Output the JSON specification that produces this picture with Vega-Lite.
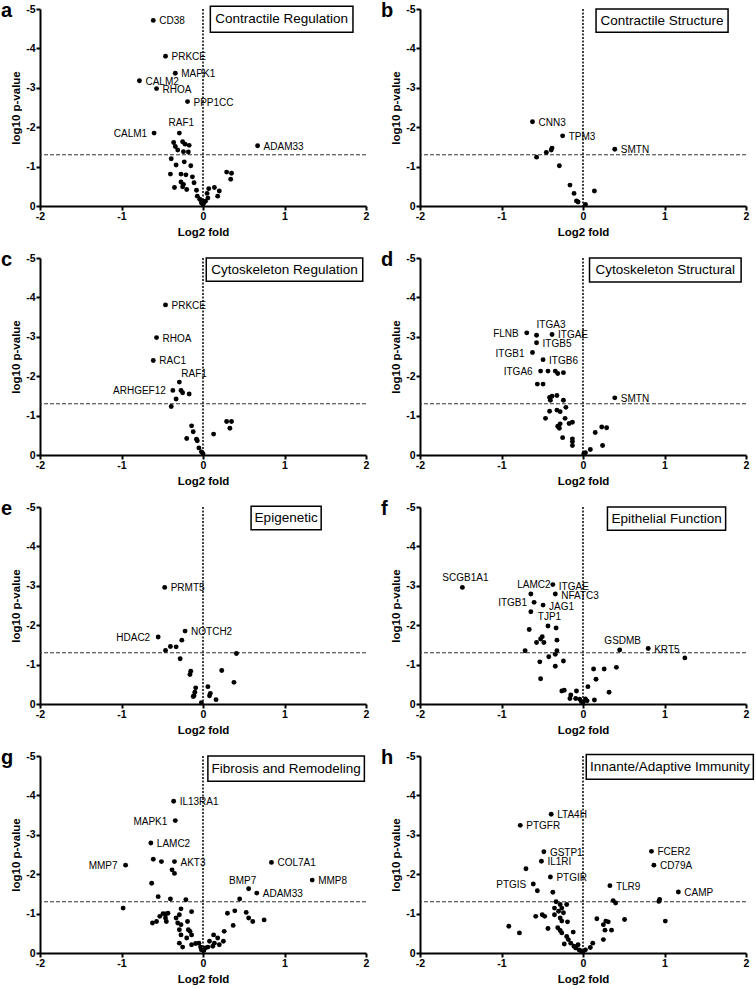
{
"$schema": "https://vega.github.io/schema/vega-lite/v6.json",
"padding": {"left": 1, "top": 1, "right": 2, "bottom": 0},
"background": "white",
"config": {
 "font": "Liberation Sans",
 "view": {"stroke": null},
 "axis": {"domainColor": "black", "domainWidth": 2, "tickColor": "black", "tickWidth": 2, "tickSize": 4, "labelPadding": 1, "labelFontSize": 10.5, "labelFontWeight": "bold", "labelColor": "black", "titleFontSize": 11.5, "titleFontWeight": "bold", "titleColor": "black", "grid": false, "labelFlush": false, "labelExpr": "datum.value + ''"},
 "axisX": {"titlePadding": 5, "tickCount": 4},
 "axisY": {"titlePadding": 4, "tickCount": 5}
},
"datasets": {
 "da": [
  {"fold": -0.61, "logp": -4.71, "gene": "CD38"},
  {"fold": -0.46, "logp": -3.80, "gene": "PRKCE"},
  {"fold": -0.34, "logp": -3.37, "gene": "MAPK1"},
  {"fold": -0.78, "logp": -3.18, "gene": "CALM2"},
  {"fold": -0.57, "logp": -2.98, "gene": "RHOA"},
  {"fold": -0.19, "logp": -2.65, "gene": "PPP1CC"},
  {"fold": -0.29, "logp": -1.85, "gene": "RAF1"},
  {"fold": -0.60, "logp": -1.85, "gene": "CALM1"},
  {"fold": 0.67, "logp": -1.53, "gene": "ADAM33"},
  {"fold": -0.36, "logp": -1.61}, {"fold": -0.25, "logp": -1.63}, {"fold": -0.22, "logp": -1.57}, {"fold": -0.17, "logp": -1.54},
  {"fold": -0.34, "logp": -1.51}, {"fold": -0.31, "logp": -1.42}, {"fold": -0.24, "logp": -1.38}, {"fold": -0.18, "logp": -1.37},
  {"fold": -0.39, "logp": -1.20}, {"fold": -0.23, "logp": -1.12}, {"fold": -0.15, "logp": -1.02}, {"fold": -0.33, "logp": -1.04},
  {"fold": -0.40, "logp": -0.81}, {"fold": -0.27, "logp": -0.81}, {"fold": -0.21, "logp": -0.79}, {"fold": -0.13, "logp": -0.74},
  {"fold": -0.27, "logp": -0.61}, {"fold": -0.24, "logp": -0.55}, {"fold": -0.11, "logp": -0.59}, {"fold": -0.35, "logp": -0.47},
  {"fold": -0.25, "logp": -0.49}, {"fold": -0.20, "logp": -0.42}, {"fold": -0.08, "logp": -0.40}, {"fold": -0.07, "logp": -0.25},
  {"fold": -0.04, "logp": -0.17}, {"fold": -0.02, "logp": -0.08}, {"fold": 0.00, "logp": -0.04}, {"fold": 0.03, "logp": -0.12},
  {"fold": 0.06, "logp": -0.20}, {"fold": 0.07, "logp": -0.44}, {"fold": 0.14, "logp": -0.47}, {"fold": 0.20, "logp": -0.38},
  {"fold": 0.18, "logp": -0.25}, {"fold": 0.29, "logp": -0.86}, {"fold": 0.34, "logp": -0.68}, {"fold": 0.35, "logp": -0.83},
  {"fold": -0.01, "logp": -0.12}, {"fold": 0.01, "logp": -0.09}, {"fold": 0.05, "logp": -0.32}
 ],
 "db": [
  {"fold": -0.62, "logp": -2.14, "gene": "CNN3"},
  {"fold": -0.25, "logp": -1.78, "gene": "TPM3"},
  {"fold": 0.39, "logp": -1.44, "gene": "SMTN"},
  {"fold": -0.38, "logp": -1.47}, {"fold": -0.39, "logp": -1.42}, {"fold": -0.45, "logp": -1.36}, {"fold": -0.57, "logp": -1.24},
  {"fold": -0.29, "logp": -1.02}, {"fold": -0.16, "logp": -0.53}, {"fold": -0.11, "logp": -0.32}, {"fold": 0.14, "logp": -0.38},
  {"fold": -0.08, "logp": -0.13}, {"fold": -0.06, "logp": -0.10}, {"fold": 0.03, "logp": -0.04}
 ],
 "dc": [
  {"fold": -0.46, "logp": -3.81, "gene": "PRKCE"},
  {"fold": -0.57, "logp": -2.98, "gene": "RHOA"},
  {"fold": -0.61, "logp": -2.40, "gene": "RAC1"},
  {"fold": -0.29, "logp": -1.85, "gene": "RAF1"},
  {"fold": -0.37, "logp": -1.64, "gene": "ARHGEF12"},
  {"fold": -0.27, "logp": -1.64}, {"fold": -0.25, "logp": -1.58}, {"fold": -0.17, "logp": -1.55}, {"fold": -0.33, "logp": -1.42},
  {"fold": -0.39, "logp": -1.23}, {"fold": -0.14, "logp": -0.74}, {"fold": -0.12, "logp": -0.59}, {"fold": -0.20, "logp": -0.42},
  {"fold": -0.08, "logp": -0.40}, {"fold": -0.07, "logp": -0.36}, {"fold": -0.05, "logp": -0.18}, {"fold": -0.02, "logp": -0.08},
  {"fold": 0.00, "logp": -0.03}, {"fold": 0.29, "logp": -0.85}, {"fold": 0.35, "logp": -0.85}, {"fold": 0.33, "logp": -0.68},
  {"fold": 0.13, "logp": -0.53}
 ],
 "dd": [
  {"fold": -0.69, "logp": -3.10, "gene": "FLNB"},
  {"fold": -0.57, "logp": -3.04, "gene": "ITGA3"},
  {"fold": -0.38, "logp": -3.06, "gene": "ITGAE"},
  {"fold": -0.57, "logp": -2.85, "gene": "ITGB5"},
  {"fold": -0.62, "logp": -2.60, "gene": "ITGB1"},
  {"fold": -0.49, "logp": -2.42, "gene": "ITGB6"},
  {"fold": -0.52, "logp": -2.13, "gene": "ITGA6"},
  {"fold": 0.39, "logp": -1.45, "gene": "SMTN"},
  {"fold": -0.43, "logp": -2.13}, {"fold": -0.34, "logp": -2.13}, {"fold": -0.31, "logp": -2.07}, {"fold": -0.24, "logp": -2.09},
  {"fold": -0.56, "logp": -1.80}, {"fold": -0.49, "logp": -1.80}, {"fold": -0.41, "logp": -1.46}, {"fold": -0.38, "logp": -1.49},
  {"fold": -0.32, "logp": -1.51}, {"fold": -0.40, "logp": -1.39}, {"fold": -0.24, "logp": -1.39}, {"fold": -0.21, "logp": -1.21},
  {"fold": -0.41, "logp": -1.11}, {"fold": -0.32, "logp": -1.14}, {"fold": -0.28, "logp": -1.10}, {"fold": -0.46, "logp": -0.93},
  {"fold": -0.22, "logp": -0.93}, {"fold": -0.28, "logp": -0.79}, {"fold": -0.17, "logp": -0.80}, {"fold": -0.13, "logp": -0.83},
  {"fold": -0.31, "logp": -0.73}, {"fold": -0.29, "logp": -0.68}, {"fold": -0.25, "logp": -0.44}, {"fold": -0.13, "logp": -0.41},
  {"fold": -0.13, "logp": -0.34}, {"fold": -0.13, "logp": -0.24}, {"fold": 0.15, "logp": -0.57}, {"fold": 0.23, "logp": -0.71},
  {"fold": 0.29, "logp": -0.69}, {"fold": 0.24, "logp": -0.24}, {"fold": 0.09, "logp": -0.14}, {"fold": 0.03, "logp": -0.06},
  {"fold": 0.01, "logp": -0.03}
 ],
 "de": [
  {"fold": -0.47, "logp": -2.96, "gene": "PRMT5"},
  {"fold": -0.22, "logp": -1.85, "gene": "NOTCH2"},
  {"fold": -0.55, "logp": -1.70, "gene": "HDAC2"},
  {"fold": -0.26, "logp": -1.62}, {"fold": -0.33, "logp": -1.45}, {"fold": -0.40, "logp": -1.46}, {"fold": -0.46, "logp": -1.36},
  {"fold": -0.28, "logp": -1.15}, {"fold": 0.41, "logp": -1.28}, {"fold": -0.15, "logp": -0.83}, {"fold": -0.16, "logp": -0.75},
  {"fold": 0.23, "logp": -0.85}, {"fold": 0.38, "logp": -0.55}, {"fold": 0.06, "logp": -0.44}, {"fold": -0.09, "logp": -0.41},
  {"fold": -0.10, "logp": -0.30}, {"fold": -0.11, "logp": -0.21}, {"fold": -0.12, "logp": -0.19}, {"fold": 0.09, "logp": -0.27},
  {"fold": 0.08, "logp": -0.21}, {"fold": 0.16, "logp": -0.11}, {"fold": -0.02, "logp": -0.03}
 ],
 "df": [
  {"fold": -1.48, "logp": -2.96, "gene": "SCGB1A1"},
  {"fold": -0.37, "logp": -3.03, "gene": "ITGAE"},
  {"fold": -0.34, "logp": -2.79, "gene": "NFATC3"},
  {"fold": -0.64, "logp": -2.79, "gene": "LAMC2"},
  {"fold": -0.60, "logp": -2.58, "gene": "ITGB1"},
  {"fold": -0.49, "logp": -2.51, "gene": "JAG1"},
  {"fold": -0.64, "logp": -2.34, "gene": "TJP1"},
  {"fold": 0.45, "logp": -1.37, "gene": "GSDMB"},
  {"fold": 0.80, "logp": -1.41, "gene": "KRT5"},
  {"fold": -0.66, "logp": -1.89}, {"fold": -0.43, "logp": -1.98}, {"fold": -0.33, "logp": -1.93}, {"fold": -0.32, "logp": -1.62},
  {"fold": -0.50, "logp": -1.71}, {"fold": -0.52, "logp": -1.65}, {"fold": -0.57, "logp": -1.56}, {"fold": -0.48, "logp": -1.56},
  {"fold": -0.71, "logp": -1.35}, {"fold": -0.32, "logp": -1.35}, {"fold": -0.34, "logp": -1.26}, {"fold": -0.42, "logp": -1.20},
  {"fold": -0.53, "logp": -1.07}, {"fold": -0.24, "logp": -1.09}, {"fold": -0.34, "logp": -0.96}, {"fold": -0.52, "logp": -0.64},
  {"fold": 1.25, "logp": -1.17}, {"fold": 0.13, "logp": -0.89}, {"fold": 0.26, "logp": -0.89}, {"fold": 0.41, "logp": -0.93},
  {"fold": 0.16, "logp": -0.63}, {"fold": 0.06, "logp": -0.44}, {"fold": 0.32, "logp": -0.30}, {"fold": -0.26, "logp": -0.33},
  {"fold": -0.23, "logp": -0.35}, {"fold": -0.15, "logp": -0.23}, {"fold": -0.16, "logp": -0.14}, {"fold": -0.08, "logp": -0.33},
  {"fold": -0.09, "logp": -0.14}, {"fold": -0.04, "logp": -0.12}, {"fold": -0.02, "logp": -0.06}, {"fold": 0.03, "logp": -0.13},
  {"fold": 0.05, "logp": -0.08}, {"fold": 0.14, "logp": -0.10}, {"fold": 0.00, "logp": -0.04}
 ],
 "dg": [
  {"fold": -0.36, "logp": -3.85, "gene": "IL13RA1"},
  {"fold": -0.34, "logp": -3.36, "gene": "MAPK1"},
  {"fold": -0.64, "logp": -2.79, "gene": "LAMC2"},
  {"fold": -0.95, "logp": -2.23, "gene": "MMP7"},
  {"fold": -0.35, "logp": -2.32, "gene": "AKT3"},
  {"fold": 0.84, "logp": -2.30, "gene": "COL7A1"},
  {"fold": 1.34, "logp": -1.85, "gene": "MMP8"},
  {"fold": 0.56, "logp": -1.63, "gene": "BMP7"},
  {"fold": 0.66, "logp": -1.52, "gene": "ADAM33"},
  {"fold": -0.61, "logp": -2.38}, {"fold": -0.51, "logp": -2.32}, {"fold": -0.38, "logp": -2.11}, {"fold": -0.35, "logp": -2.02},
  {"fold": -0.63, "logp": -1.77}, {"fold": 0.45, "logp": -1.37}, {"fold": -0.55, "logp": -1.43}, {"fold": -0.40, "logp": -1.37},
  {"fold": -0.21, "logp": -1.35}, {"fold": -0.98, "logp": -1.14}, {"fold": -0.62, "logp": -0.76},
  {"fold": -0.49, "logp": -1.00}, {"fold": -0.46, "logp": -0.99}, {"fold": -0.43, "logp": -1.01}, {"fold": -0.46, "logp": -0.89},
  {"fold": -0.53, "logp": -0.93}, {"fold": -0.57, "logp": -0.80}, {"fold": -0.45, "logp": -0.80}, {"fold": -0.33, "logp": -0.89},
  {"fold": -0.29, "logp": -0.97}, {"fold": -0.27, "logp": -1.12}, {"fold": -0.14, "logp": -1.05}, {"fold": -0.31, "logp": -0.76},
  {"fold": -0.27, "logp": -0.72}, {"fold": -0.19, "logp": -0.80}, {"fold": -0.18, "logp": -0.59}, {"fold": -0.29, "logp": -0.59},
  {"fold": -0.27, "logp": -0.46}, {"fold": -0.16, "logp": -0.55}, {"fold": -0.14, "logp": -0.46}, {"fold": -0.20, "logp": -0.38},
  {"fold": -0.29, "logp": -0.25}, {"fold": -0.25, "logp": -0.15}, {"fold": -0.14, "logp": -0.21}, {"fold": -0.09, "logp": -0.24},
  {"fold": -0.05, "logp": -0.25}, {"fold": -0.03, "logp": -0.15}, {"fold": -0.02, "logp": -0.08}, {"fold": 0.01, "logp": -0.06},
  {"fold": 0.03, "logp": -0.13}, {"fold": 0.06, "logp": -0.15}, {"fold": 0.12, "logp": -0.17}, {"fold": 0.14, "logp": -0.25},
  {"fold": 0.13, "logp": -0.46}, {"fold": 0.18, "logp": -0.38}, {"fold": 0.20, "logp": -0.21}, {"fold": 0.25, "logp": -0.30},
  {"fold": 0.26, "logp": -0.55}, {"fold": 0.30, "logp": -1.01}, {"fold": 0.39, "logp": -1.07}, {"fold": 0.37, "logp": -0.70},
  {"fold": 0.53, "logp": -1.03}, {"fold": 0.56, "logp": -0.89}, {"fold": 0.61, "logp": -0.80}, {"fold": 0.75, "logp": -0.84},
  {"fold": 0.08, "logp": -0.30}
 ],
 "dh": [
  {"fold": -0.39, "logp": -3.52, "gene": "LTA4H"},
  {"fold": -0.77, "logp": -3.24, "gene": "PTGFR"},
  {"fold": -0.48, "logp": -2.57, "gene": "GSTP1"},
  {"fold": -0.51, "logp": -2.33, "gene": "IL1RI"},
  {"fold": -0.40, "logp": -1.93, "gene": "PTGIR"},
  {"fold": -0.61, "logp": -1.75, "gene": "PTGIS"},
  {"fold": 0.84, "logp": -2.58, "gene": "FCER2"},
  {"fold": 0.87, "logp": -2.23, "gene": "CD79A"},
  {"fold": 0.33, "logp": -1.71, "gene": "TLR9"},
  {"fold": 1.17, "logp": -1.55, "gene": "CAMP"},
  {"fold": -0.70, "logp": -2.14}, {"fold": -0.56, "logp": -1.58}, {"fold": -0.37, "logp": -1.54}, {"fold": 0.94, "logp": -1.36},
  {"fold": 0.93, "logp": -1.31}, {"fold": 0.37, "logp": -1.33}, {"fold": 0.40, "logp": -1.27}, {"fold": 1.01, "logp": -0.81},
  {"fold": 0.51, "logp": -0.85}, {"fold": 0.28, "logp": -0.81}, {"fold": 0.31, "logp": -0.79}, {"fold": 0.25, "logp": -0.72},
  {"fold": 0.35, "logp": -0.58}, {"fold": 0.27, "logp": -0.58}, {"fold": 0.25, "logp": -0.34}, {"fold": 0.17, "logp": -0.87},
  {"fold": 0.12, "logp": -0.25}, {"fold": 0.09, "logp": -0.14}, {"fold": -0.91, "logp": -0.68}, {"fold": -0.78, "logp": -0.51},
  {"fold": -0.58, "logp": -0.93}, {"fold": -0.47, "logp": -0.93}, {"fold": -0.50, "logp": -0.97}, {"fold": -0.43, "logp": -0.62},
  {"fold": -0.33, "logp": -1.30}, {"fold": -0.35, "logp": -1.14}, {"fold": -0.28, "logp": -1.23}, {"fold": -0.26, "logp": -1.14},
  {"fold": -0.20, "logp": -1.23}, {"fold": -0.30, "logp": -1.06}, {"fold": -0.24, "logp": -1.02}, {"fold": -0.35, "logp": -0.97},
  {"fold": -0.28, "logp": -0.89}, {"fold": -0.26, "logp": -0.81}, {"fold": -0.19, "logp": -0.79}, {"fold": -0.31, "logp": -0.64},
  {"fold": -0.28, "logp": -0.57}, {"fold": -0.26, "logp": -0.51}, {"fold": -0.12, "logp": -0.53}, {"fold": -0.20, "logp": -0.42},
  {"fold": -0.18, "logp": -0.34}, {"fold": -0.15, "logp": -0.25}, {"fold": -0.11, "logp": -0.17}, {"fold": -0.09, "logp": -0.13},
  {"fold": -0.05, "logp": -0.08}, {"fold": -0.03, "logp": -0.06}, {"fold": 0.00, "logp": -0.03}, {"fold": 0.03, "logp": -0.08},
  {"fold": -0.23, "logp": -0.23}, {"fold": -0.06, "logp": -0.21}
 ]
},
"columns": 2,
"spacing": {"row": 52, "column": 54},
"bounds": "flush",
"concat": [
 {"width": 326, "height": 197, "layer": [
  {"data": {"values": [{}]}, "mark": {"type": "rule", "strokeDash": [4, 2], "strokeWidth": 1, "color": "#333"}, "encoding": {"y": {"datum": -1.3, "type": "quantitative", "title": "log10 p-value", "scale": {"domain": [-5, 0], "reverse": true, "nice": false, "zero": false}}}},
  {"data": {"values": [{}]}, "mark": {"type": "rule", "strokeDash": [2, 1.5], "strokeWidth": 1.5, "color": "black"}, "encoding": {"x": {"datum": 0, "type": "quantitative", "title": "Log2 fold", "scale": {"domain": [-2, 2], "nice": false, "zero": false}}}},
  {"data": {"name": "da"}, "mark": {"type": "circle", "size": 24, "color": "black", "opacity": 1}, "encoding": {"x": {"field": "fold", "type": "quantitative", "title": "Log2 fold", "scale": {"domain": [-2, 2], "nice": false, "zero": false}}, "y": {"field": "logp", "type": "quantitative", "title": "log10 p-value", "scale": {"domain": [-5, 0], "reverse": true, "nice": false, "zero": false}}}},
  {"data": {"name": "da"}, "transform": [{"filter": {"field": "gene", "oneOf": ["CD38", "PRKCE", "MAPK1", "CALM2", "RHOA", "PPP1CC", "ADAM33"]}}], "mark": {"type": "text", "align": "left", "baseline": "middle", "dx": 6, "dy": 1, "fontSize": 10, "color": "black"}, "encoding": {"x": {"field": "fold", "type": "quantitative", "title": "Log2 fold", "scale": {"domain": [-2, 2], "nice": false, "zero": false}}, "y": {"field": "logp", "type": "quantitative", "title": "log10 p-value", "scale": {"domain": [-5, 0], "reverse": true, "nice": false, "zero": false}}, "text": {"field": "gene"}}},
  {"data": {"name": "da"}, "transform": [{"filter": {"field": "gene", "oneOf": ["CALM1"]}}], "mark": {"type": "text", "align": "right", "baseline": "middle", "dx": -7, "dy": 1, "fontSize": 10, "color": "black"}, "encoding": {"x": {"field": "fold", "type": "quantitative", "title": "Log2 fold", "scale": {"domain": [-2, 2], "nice": false, "zero": false}}, "y": {"field": "logp", "type": "quantitative", "title": "log10 p-value", "scale": {"domain": [-5, 0], "reverse": true, "nice": false, "zero": false}}, "text": {"field": "gene"}}},
  {"data": {"name": "da"}, "transform": [{"filter": {"field": "gene", "oneOf": ["RAF1"]}}], "mark": {"type": "text", "align": "center", "baseline": "middle", "dx": 2, "dy": -10, "fontSize": 10, "color": "black"}, "encoding": {"x": {"field": "fold", "type": "quantitative", "title": "Log2 fold", "scale": {"domain": [-2, 2], "nice": false, "zero": false}}, "y": {"field": "logp", "type": "quantitative", "title": "log10 p-value", "scale": {"domain": [-5, 0], "reverse": true, "nice": false, "zero": false}}, "text": {"field": "gene"}}},
  {"data": {"values": [{}]}, "mark": {"type": "rect", "fill": "white", "stroke": "black", "strokeWidth": 1.5}, "encoding": {"x": {"datum": 0.09, "type": "quantitative", "title": "Log2 fold", "scale": {"domain": [-2, 2], "nice": false, "zero": false}}, "x2": {"datum": 1.84}, "y": {"datum": -5.07, "type": "quantitative", "title": "log10 p-value", "scale": {"domain": [-5, 0], "reverse": true, "nice": false, "zero": false}}, "y2": {"datum": -4.41}}},
  {"data": {"values": [{}]}, "mark": {"type": "text", "align": "center", "baseline": "middle", "fontSize": 13.5, "color": "black"}, "encoding": {"x": {"datum": 0.965, "type": "quantitative", "title": "Log2 fold", "scale": {"domain": [-2, 2], "nice": false, "zero": false}}, "y": {"datum": -4.74, "type": "quantitative", "title": "log10 p-value", "scale": {"domain": [-5, 0], "reverse": true, "nice": false, "zero": false}}, "text": {"value": "Contractile Regulation"}}},
  {"data": {"values": [{}]}, "mark": {"type": "text", "align": "left", "baseline": "middle", "dx": -39, "dy": 2, "fontSize": 20, "fontWeight": "bold", "color": "black"}, "encoding": {"x": {"datum": -2, "type": "quantitative", "title": "Log2 fold", "scale": {"domain": [-2, 2], "nice": false, "zero": false}}, "y": {"datum": -5, "type": "quantitative", "title": "log10 p-value", "scale": {"domain": [-5, 0], "reverse": true, "nice": false, "zero": false}}, "text": {"value": "a"}}}
 ]},
 {"width": 326, "height": 197, "layer": [
  {"data": {"values": [{}]}, "mark": {"type": "rule", "strokeDash": [4, 2], "strokeWidth": 1, "color": "#333"}, "encoding": {"y": {"datum": -1.3, "type": "quantitative", "title": "log10 p-value", "scale": {"domain": [-5, 0], "reverse": true, "nice": false, "zero": false}}}},
  {"data": {"values": [{}]}, "mark": {"type": "rule", "strokeDash": [2, 1.5], "strokeWidth": 1.5, "color": "black"}, "encoding": {"x": {"datum": 0, "type": "quantitative", "title": "Log2 fold", "scale": {"domain": [-2, 2], "nice": false, "zero": false}}}},
  {"data": {"name": "db"}, "mark": {"type": "circle", "size": 24, "color": "black", "opacity": 1}, "encoding": {"x": {"field": "fold", "type": "quantitative", "title": "Log2 fold", "scale": {"domain": [-2, 2], "nice": false, "zero": false}}, "y": {"field": "logp", "type": "quantitative", "title": "log10 p-value", "scale": {"domain": [-5, 0], "reverse": true, "nice": false, "zero": false}}}},
  {"data": {"name": "db"}, "transform": [{"filter": {"field": "gene", "oneOf": ["CNN3", "TPM3", "SMTN"]}}], "mark": {"type": "text", "align": "left", "baseline": "middle", "dx": 6, "dy": 1, "fontSize": 10, "color": "black"}, "encoding": {"x": {"field": "fold", "type": "quantitative", "title": "Log2 fold", "scale": {"domain": [-2, 2], "nice": false, "zero": false}}, "y": {"field": "logp", "type": "quantitative", "title": "log10 p-value", "scale": {"domain": [-5, 0], "reverse": true, "nice": false, "zero": false}}, "text": {"field": "gene"}}},
  {"data": {"values": [{}]}, "mark": {"type": "rect", "fill": "white", "stroke": "black", "strokeWidth": 1.5}, "encoding": {"x": {"datum": 0.16, "type": "quantitative", "title": "Log2 fold", "scale": {"domain": [-2, 2], "nice": false, "zero": false}}, "x2": {"datum": 1.78}, "y": {"datum": -5.0, "type": "quantitative", "title": "log10 p-value", "scale": {"domain": [-5, 0], "reverse": true, "nice": false, "zero": false}}, "y2": {"datum": -4.41}}},
  {"data": {"values": [{}]}, "mark": {"type": "text", "align": "center", "baseline": "middle", "fontSize": 13.5, "color": "black"}, "encoding": {"x": {"datum": 0.97, "type": "quantitative", "title": "Log2 fold", "scale": {"domain": [-2, 2], "nice": false, "zero": false}}, "y": {"datum": -4.705, "type": "quantitative", "title": "log10 p-value", "scale": {"domain": [-5, 0], "reverse": true, "nice": false, "zero": false}}, "text": {"value": "Contractile Structure"}}},
  {"data": {"values": [{}]}, "mark": {"type": "text", "align": "left", "baseline": "middle", "dx": -39, "dy": 2, "fontSize": 20, "fontWeight": "bold", "color": "black"}, "encoding": {"x": {"datum": -2, "type": "quantitative", "title": "Log2 fold", "scale": {"domain": [-2, 2], "nice": false, "zero": false}}, "y": {"datum": -5, "type": "quantitative", "title": "log10 p-value", "scale": {"domain": [-5, 0], "reverse": true, "nice": false, "zero": false}}, "text": {"value": "b"}}}
 ]},
 {"width": 326, "height": 197, "layer": [
  {"data": {"values": [{}]}, "mark": {"type": "rule", "strokeDash": [4, 2], "strokeWidth": 1, "color": "#333"}, "encoding": {"y": {"datum": -1.3, "type": "quantitative", "title": "log10 p-value", "scale": {"domain": [-5, 0], "reverse": true, "nice": false, "zero": false}}}},
  {"data": {"values": [{}]}, "mark": {"type": "rule", "strokeDash": [2, 1.5], "strokeWidth": 1.5, "color": "black"}, "encoding": {"x": {"datum": 0, "type": "quantitative", "title": "Log2 fold", "scale": {"domain": [-2, 2], "nice": false, "zero": false}}}},
  {"data": {"name": "dc"}, "mark": {"type": "circle", "size": 24, "color": "black", "opacity": 1}, "encoding": {"x": {"field": "fold", "type": "quantitative", "title": "Log2 fold", "scale": {"domain": [-2, 2], "nice": false, "zero": false}}, "y": {"field": "logp", "type": "quantitative", "title": "log10 p-value", "scale": {"domain": [-5, 0], "reverse": true, "nice": false, "zero": false}}}},
  {"data": {"name": "dc"}, "transform": [{"filter": {"field": "gene", "oneOf": ["PRKCE", "RHOA", "RAC1"]}}], "mark": {"type": "text", "align": "left", "baseline": "middle", "dx": 6, "dy": 1, "fontSize": 10, "color": "black"}, "encoding": {"x": {"field": "fold", "type": "quantitative", "title": "Log2 fold", "scale": {"domain": [-2, 2], "nice": false, "zero": false}}, "y": {"field": "logp", "type": "quantitative", "title": "log10 p-value", "scale": {"domain": [-5, 0], "reverse": true, "nice": false, "zero": false}}, "text": {"field": "gene"}}},
  {"data": {"name": "dc"}, "transform": [{"filter": {"field": "gene", "oneOf": ["ARHGEF12"]}}], "mark": {"type": "text", "align": "right", "baseline": "middle", "dx": -7, "dy": 1, "fontSize": 10, "color": "black"}, "encoding": {"x": {"field": "fold", "type": "quantitative", "title": "Log2 fold", "scale": {"domain": [-2, 2], "nice": false, "zero": false}}, "y": {"field": "logp", "type": "quantitative", "title": "log10 p-value", "scale": {"domain": [-5, 0], "reverse": true, "nice": false, "zero": false}}, "text": {"field": "gene"}}},
  {"data": {"name": "dc"}, "transform": [{"filter": {"field": "gene", "oneOf": ["RAF1"]}}], "mark": {"type": "text", "align": "left", "baseline": "middle", "dx": 2, "dy": -8, "fontSize": 10, "color": "black"}, "encoding": {"x": {"field": "fold", "type": "quantitative", "title": "Log2 fold", "scale": {"domain": [-2, 2], "nice": false, "zero": false}}, "y": {"field": "logp", "type": "quantitative", "title": "log10 p-value", "scale": {"domain": [-5, 0], "reverse": true, "nice": false, "zero": false}}, "text": {"field": "gene"}}},
  {"data": {"values": [{}]}, "mark": {"type": "rect", "fill": "white", "stroke": "black", "strokeWidth": 1.5}, "encoding": {"x": {"datum": 0.04, "type": "quantitative", "title": "Log2 fold", "scale": {"domain": [-2, 2], "nice": false, "zero": false}}, "x2": {"datum": 1.96}, "y": {"datum": -5.0, "type": "quantitative", "title": "log10 p-value", "scale": {"domain": [-5, 0], "reverse": true, "nice": false, "zero": false}}, "y2": {"datum": -4.41}}},
  {"data": {"values": [{}]}, "mark": {"type": "text", "align": "center", "baseline": "middle", "fontSize": 13.5, "color": "black"}, "encoding": {"x": {"datum": 1.0, "type": "quantitative", "title": "Log2 fold", "scale": {"domain": [-2, 2], "nice": false, "zero": false}}, "y": {"datum": -4.705, "type": "quantitative", "title": "log10 p-value", "scale": {"domain": [-5, 0], "reverse": true, "nice": false, "zero": false}}, "text": {"value": "Cytoskeleton Regulation"}}},
  {"data": {"values": [{}]}, "mark": {"type": "text", "align": "left", "baseline": "middle", "dx": -39, "dy": 2, "fontSize": 20, "fontWeight": "bold", "color": "black"}, "encoding": {"x": {"datum": -2, "type": "quantitative", "title": "Log2 fold", "scale": {"domain": [-2, 2], "nice": false, "zero": false}}, "y": {"datum": -5, "type": "quantitative", "title": "log10 p-value", "scale": {"domain": [-5, 0], "reverse": true, "nice": false, "zero": false}}, "text": {"value": "c"}}}
 ]},
 {"width": 326, "height": 197, "layer": [
  {"data": {"values": [{}]}, "mark": {"type": "rule", "strokeDash": [4, 2], "strokeWidth": 1, "color": "#333"}, "encoding": {"y": {"datum": -1.3, "type": "quantitative", "title": "log10 p-value", "scale": {"domain": [-5, 0], "reverse": true, "nice": false, "zero": false}}}},
  {"data": {"values": [{}]}, "mark": {"type": "rule", "strokeDash": [2, 1.5], "strokeWidth": 1.5, "color": "black"}, "encoding": {"x": {"datum": 0, "type": "quantitative", "title": "Log2 fold", "scale": {"domain": [-2, 2], "nice": false, "zero": false}}}},
  {"data": {"name": "dd"}, "mark": {"type": "circle", "size": 24, "color": "black", "opacity": 1}, "encoding": {"x": {"field": "fold", "type": "quantitative", "title": "Log2 fold", "scale": {"domain": [-2, 2], "nice": false, "zero": false}}, "y": {"field": "logp", "type": "quantitative", "title": "log10 p-value", "scale": {"domain": [-5, 0], "reverse": true, "nice": false, "zero": false}}}},
  {"data": {"name": "dd"}, "transform": [{"filter": {"field": "gene", "oneOf": ["ITGAE", "ITGB5", "ITGB6", "SMTN"]}}], "mark": {"type": "text", "align": "left", "baseline": "middle", "dx": 6, "dy": 1, "fontSize": 10, "color": "black"}, "encoding": {"x": {"field": "fold", "type": "quantitative", "title": "Log2 fold", "scale": {"domain": [-2, 2], "nice": false, "zero": false}}, "y": {"field": "logp", "type": "quantitative", "title": "log10 p-value", "scale": {"domain": [-5, 0], "reverse": true, "nice": false, "zero": false}}, "text": {"field": "gene"}}},
  {"data": {"name": "dd"}, "transform": [{"filter": {"field": "gene", "oneOf": ["FLNB", "ITGB1", "ITGA6"]}}], "mark": {"type": "text", "align": "right", "baseline": "middle", "dx": -8, "dy": 1, "fontSize": 10, "color": "black"}, "encoding": {"x": {"field": "fold", "type": "quantitative", "title": "Log2 fold", "scale": {"domain": [-2, 2], "nice": false, "zero": false}}, "y": {"field": "logp", "type": "quantitative", "title": "log10 p-value", "scale": {"domain": [-5, 0], "reverse": true, "nice": false, "zero": false}}, "text": {"field": "gene"}}},
  {"data": {"name": "dd"}, "transform": [{"filter": {"field": "gene", "oneOf": ["ITGA3"]}}], "mark": {"type": "text", "align": "left", "baseline": "middle", "dx": 0, "dy": -10, "fontSize": 10, "color": "black"}, "encoding": {"x": {"field": "fold", "type": "quantitative", "title": "Log2 fold", "scale": {"domain": [-2, 2], "nice": false, "zero": false}}, "y": {"field": "logp", "type": "quantitative", "title": "log10 p-value", "scale": {"domain": [-5, 0], "reverse": true, "nice": false, "zero": false}}, "text": {"field": "gene"}}},
  {"data": {"values": [{}]}, "mark": {"type": "rect", "fill": "white", "stroke": "black", "strokeWidth": 1.5}, "encoding": {"x": {"datum": 0.08, "type": "quantitative", "title": "Log2 fold", "scale": {"domain": [-2, 2], "nice": false, "zero": false}}, "x2": {"datum": 1.94}, "y": {"datum": -5.0, "type": "quantitative", "title": "log10 p-value", "scale": {"domain": [-5, 0], "reverse": true, "nice": false, "zero": false}}, "y2": {"datum": -4.39}}},
  {"data": {"values": [{}]}, "mark": {"type": "text", "align": "center", "baseline": "middle", "fontSize": 13.5, "color": "black"}, "encoding": {"x": {"datum": 1.01, "type": "quantitative", "title": "Log2 fold", "scale": {"domain": [-2, 2], "nice": false, "zero": false}}, "y": {"datum": -4.695, "type": "quantitative", "title": "log10 p-value", "scale": {"domain": [-5, 0], "reverse": true, "nice": false, "zero": false}}, "text": {"value": "Cytoskeleton Structural"}}},
  {"data": {"values": [{}]}, "mark": {"type": "text", "align": "left", "baseline": "middle", "dx": -39, "dy": 2, "fontSize": 20, "fontWeight": "bold", "color": "black"}, "encoding": {"x": {"datum": -2, "type": "quantitative", "title": "Log2 fold", "scale": {"domain": [-2, 2], "nice": false, "zero": false}}, "y": {"datum": -5, "type": "quantitative", "title": "log10 p-value", "scale": {"domain": [-5, 0], "reverse": true, "nice": false, "zero": false}}, "text": {"value": "d"}}}
 ]},
 {"width": 326, "height": 197, "layer": [
  {"data": {"values": [{}]}, "mark": {"type": "rule", "strokeDash": [4, 2], "strokeWidth": 1, "color": "#333"}, "encoding": {"y": {"datum": -1.3, "type": "quantitative", "title": "log10 p-value", "scale": {"domain": [-5, 0], "reverse": true, "nice": false, "zero": false}}}},
  {"data": {"values": [{}]}, "mark": {"type": "rule", "strokeDash": [2, 1.5], "strokeWidth": 1.5, "color": "black"}, "encoding": {"x": {"datum": 0, "type": "quantitative", "title": "Log2 fold", "scale": {"domain": [-2, 2], "nice": false, "zero": false}}}},
  {"data": {"name": "de"}, "mark": {"type": "circle", "size": 24, "color": "black", "opacity": 1}, "encoding": {"x": {"field": "fold", "type": "quantitative", "title": "Log2 fold", "scale": {"domain": [-2, 2], "nice": false, "zero": false}}, "y": {"field": "logp", "type": "quantitative", "title": "log10 p-value", "scale": {"domain": [-5, 0], "reverse": true, "nice": false, "zero": false}}}},
  {"data": {"name": "de"}, "transform": [{"filter": {"field": "gene", "oneOf": ["PRMT5", "NOTCH2"]}}], "mark": {"type": "text", "align": "left", "baseline": "middle", "dx": 6, "dy": 1, "fontSize": 10, "color": "black"}, "encoding": {"x": {"field": "fold", "type": "quantitative", "title": "Log2 fold", "scale": {"domain": [-2, 2], "nice": false, "zero": false}}, "y": {"field": "logp", "type": "quantitative", "title": "log10 p-value", "scale": {"domain": [-5, 0], "reverse": true, "nice": false, "zero": false}}, "text": {"field": "gene"}}},
  {"data": {"name": "de"}, "transform": [{"filter": {"field": "gene", "oneOf": ["HDAC2"]}}], "mark": {"type": "text", "align": "right", "baseline": "middle", "dx": -8, "dy": 1, "fontSize": 10, "color": "black"}, "encoding": {"x": {"field": "fold", "type": "quantitative", "title": "Log2 fold", "scale": {"domain": [-2, 2], "nice": false, "zero": false}}, "y": {"field": "logp", "type": "quantitative", "title": "log10 p-value", "scale": {"domain": [-5, 0], "reverse": true, "nice": false, "zero": false}}, "text": {"field": "gene"}}},
  {"data": {"values": [{}]}, "mark": {"type": "rect", "fill": "white", "stroke": "black", "strokeWidth": 1.5}, "encoding": {"x": {"datum": 0.59, "type": "quantitative", "title": "Log2 fold", "scale": {"domain": [-2, 2], "nice": false, "zero": false}}, "x2": {"datum": 1.45}, "y": {"datum": -5.02, "type": "quantitative", "title": "log10 p-value", "scale": {"domain": [-5, 0], "reverse": true, "nice": false, "zero": false}}, "y2": {"datum": -4.42}}},
  {"data": {"values": [{}]}, "mark": {"type": "text", "align": "center", "baseline": "middle", "fontSize": 13.5, "color": "black"}, "encoding": {"x": {"datum": 1.02, "type": "quantitative", "title": "Log2 fold", "scale": {"domain": [-2, 2], "nice": false, "zero": false}}, "y": {"datum": -4.72, "type": "quantitative", "title": "log10 p-value", "scale": {"domain": [-5, 0], "reverse": true, "nice": false, "zero": false}}, "text": {"value": "Epigenetic"}}},
  {"data": {"values": [{}]}, "mark": {"type": "text", "align": "left", "baseline": "middle", "dx": -39, "dy": 2, "fontSize": 20, "fontWeight": "bold", "color": "black"}, "encoding": {"x": {"datum": -2, "type": "quantitative", "title": "Log2 fold", "scale": {"domain": [-2, 2], "nice": false, "zero": false}}, "y": {"datum": -5, "type": "quantitative", "title": "log10 p-value", "scale": {"domain": [-5, 0], "reverse": true, "nice": false, "zero": false}}, "text": {"value": "e"}}}
 ]},
 {"width": 326, "height": 197, "layer": [
  {"data": {"values": [{}]}, "mark": {"type": "rule", "strokeDash": [4, 2], "strokeWidth": 1, "color": "#333"}, "encoding": {"y": {"datum": -1.3, "type": "quantitative", "title": "log10 p-value", "scale": {"domain": [-5, 0], "reverse": true, "nice": false, "zero": false}}}},
  {"data": {"values": [{}]}, "mark": {"type": "rule", "strokeDash": [2, 1.5], "strokeWidth": 1.5, "color": "black"}, "encoding": {"x": {"datum": 0, "type": "quantitative", "title": "Log2 fold", "scale": {"domain": [-2, 2], "nice": false, "zero": false}}}},
  {"data": {"name": "df"}, "mark": {"type": "circle", "size": 24, "color": "black", "opacity": 1}, "encoding": {"x": {"field": "fold", "type": "quantitative", "title": "Log2 fold", "scale": {"domain": [-2, 2], "nice": false, "zero": false}}, "y": {"field": "logp", "type": "quantitative", "title": "log10 p-value", "scale": {"domain": [-5, 0], "reverse": true, "nice": false, "zero": false}}}},
  {"data": {"name": "df"}, "transform": [{"filter": {"field": "gene", "oneOf": ["ITGAE", "NFATC3", "JAG1", "KRT5"]}}], "mark": {"type": "text", "align": "left", "baseline": "middle", "dx": 6, "dy": 2, "fontSize": 10, "color": "black"}, "encoding": {"x": {"field": "fold", "type": "quantitative", "title": "Log2 fold", "scale": {"domain": [-2, 2], "nice": false, "zero": false}}, "y": {"field": "logp", "type": "quantitative", "title": "log10 p-value", "scale": {"domain": [-5, 0], "reverse": true, "nice": false, "zero": false}}, "text": {"field": "gene"}}},
  {"data": {"name": "df"}, "transform": [{"filter": {"field": "gene", "oneOf": ["TJP1"]}}], "mark": {"type": "text", "align": "left", "baseline": "middle", "dx": 7, "dy": 5, "fontSize": 10, "color": "black"}, "encoding": {"x": {"field": "fold", "type": "quantitative", "title": "Log2 fold", "scale": {"domain": [-2, 2], "nice": false, "zero": false}}, "y": {"field": "logp", "type": "quantitative", "title": "log10 p-value", "scale": {"domain": [-5, 0], "reverse": true, "nice": false, "zero": false}}, "text": {"field": "gene"}}},
  {"data": {"name": "df"}, "transform": [{"filter": {"field": "gene", "oneOf": ["ITGB1"]}}], "mark": {"type": "text", "align": "right", "baseline": "middle", "dx": -7, "dy": 1, "fontSize": 10, "color": "black"}, "encoding": {"x": {"field": "fold", "type": "quantitative", "title": "Log2 fold", "scale": {"domain": [-2, 2], "nice": false, "zero": false}}, "y": {"field": "logp", "type": "quantitative", "title": "log10 p-value", "scale": {"domain": [-5, 0], "reverse": true, "nice": false, "zero": false}}, "text": {"field": "gene"}}},
  {"data": {"name": "df"}, "transform": [{"filter": {"field": "gene", "oneOf": ["SCGB1A1", "LAMC2", "GSDMB"]}}], "mark": {"type": "text", "align": "center", "baseline": "middle", "dx": 3, "dy": -9, "fontSize": 10, "color": "black"}, "encoding": {"x": {"field": "fold", "type": "quantitative", "title": "Log2 fold", "scale": {"domain": [-2, 2], "nice": false, "zero": false}}, "y": {"field": "logp", "type": "quantitative", "title": "log10 p-value", "scale": {"domain": [-5, 0], "reverse": true, "nice": false, "zero": false}}, "text": {"field": "gene"}}},
  {"data": {"values": [{}]}, "mark": {"type": "rect", "fill": "white", "stroke": "black", "strokeWidth": 1.5}, "encoding": {"x": {"datum": 0.30, "type": "quantitative", "title": "Log2 fold", "scale": {"domain": [-2, 2], "nice": false, "zero": false}}, "x2": {"datum": 1.75}, "y": {"datum": -5.0, "type": "quantitative", "title": "log10 p-value", "scale": {"domain": [-5, 0], "reverse": true, "nice": false, "zero": false}}, "y2": {"datum": -4.41}}},
  {"data": {"values": [{}]}, "mark": {"type": "text", "align": "center", "baseline": "middle", "fontSize": 13.5, "color": "black"}, "encoding": {"x": {"datum": 1.025, "type": "quantitative", "title": "Log2 fold", "scale": {"domain": [-2, 2], "nice": false, "zero": false}}, "y": {"datum": -4.705, "type": "quantitative", "title": "log10 p-value", "scale": {"domain": [-5, 0], "reverse": true, "nice": false, "zero": false}}, "text": {"value": "Epithelial Function"}}},
  {"data": {"values": [{}]}, "mark": {"type": "text", "align": "left", "baseline": "middle", "dx": -39, "dy": 2, "fontSize": 20, "fontWeight": "bold", "color": "black"}, "encoding": {"x": {"datum": -2, "type": "quantitative", "title": "Log2 fold", "scale": {"domain": [-2, 2], "nice": false, "zero": false}}, "y": {"datum": -5, "type": "quantitative", "title": "log10 p-value", "scale": {"domain": [-5, 0], "reverse": true, "nice": false, "zero": false}}, "text": {"value": "f"}}}
 ]},
 {"width": 326, "height": 197, "layer": [
  {"data": {"values": [{}]}, "mark": {"type": "rule", "strokeDash": [4, 2], "strokeWidth": 1, "color": "#333"}, "encoding": {"y": {"datum": -1.3, "type": "quantitative", "title": "log10 p-value", "scale": {"domain": [-5, 0], "reverse": true, "nice": false, "zero": false}}}},
  {"data": {"values": [{}]}, "mark": {"type": "rule", "strokeDash": [2, 1.5], "strokeWidth": 1.5, "color": "black"}, "encoding": {"x": {"datum": 0, "type": "quantitative", "title": "Log2 fold", "scale": {"domain": [-2, 2], "nice": false, "zero": false}}}},
  {"data": {"name": "dg"}, "mark": {"type": "circle", "size": 24, "color": "black", "opacity": 1}, "encoding": {"x": {"field": "fold", "type": "quantitative", "title": "Log2 fold", "scale": {"domain": [-2, 2], "nice": false, "zero": false}}, "y": {"field": "logp", "type": "quantitative", "title": "log10 p-value", "scale": {"domain": [-5, 0], "reverse": true, "nice": false, "zero": false}}}},
  {"data": {"name": "dg"}, "transform": [{"filter": {"field": "gene", "oneOf": ["IL13RA1", "LAMC2", "AKT3", "COL7A1", "MMP8", "ADAM33"]}}], "mark": {"type": "text", "align": "left", "baseline": "middle", "dx": 6, "dy": 1, "fontSize": 10, "color": "black"}, "encoding": {"x": {"field": "fold", "type": "quantitative", "title": "Log2 fold", "scale": {"domain": [-2, 2], "nice": false, "zero": false}}, "y": {"field": "logp", "type": "quantitative", "title": "log10 p-value", "scale": {"domain": [-5, 0], "reverse": true, "nice": false, "zero": false}}, "text": {"field": "gene"}}},
  {"data": {"name": "dg"}, "transform": [{"filter": {"field": "gene", "oneOf": ["MAPK1", "MMP7"]}}], "mark": {"type": "text", "align": "right", "baseline": "middle", "dx": -8, "dy": 1, "fontSize": 10, "color": "black"}, "encoding": {"x": {"field": "fold", "type": "quantitative", "title": "Log2 fold", "scale": {"domain": [-2, 2], "nice": false, "zero": false}}, "y": {"field": "logp", "type": "quantitative", "title": "log10 p-value", "scale": {"domain": [-5, 0], "reverse": true, "nice": false, "zero": false}}, "text": {"field": "gene"}}},
  {"data": {"name": "dg"}, "transform": [{"filter": {"field": "gene", "oneOf": ["BMP7"]}}], "mark": {"type": "text", "align": "center", "baseline": "middle", "dx": -6, "dy": -8, "fontSize": 10, "color": "black"}, "encoding": {"x": {"field": "fold", "type": "quantitative", "title": "Log2 fold", "scale": {"domain": [-2, 2], "nice": false, "zero": false}}, "y": {"field": "logp", "type": "quantitative", "title": "log10 p-value", "scale": {"domain": [-5, 0], "reverse": true, "nice": false, "zero": false}}, "text": {"field": "gene"}}},
  {"data": {"values": [{}]}, "mark": {"type": "rect", "fill": "white", "stroke": "black", "strokeWidth": 1.5}, "encoding": {"x": {"datum": 0.06, "type": "quantitative", "title": "Log2 fold", "scale": {"domain": [-2, 2], "nice": false, "zero": false}}, "x2": {"datum": 1.98}, "y": {"datum": -5.0, "type": "quantitative", "title": "log10 p-value", "scale": {"domain": [-5, 0], "reverse": true, "nice": false, "zero": false}}, "y2": {"datum": -4.36}}},
  {"data": {"values": [{}]}, "mark": {"type": "text", "align": "center", "baseline": "middle", "fontSize": 13.5, "color": "black"}, "encoding": {"x": {"datum": 1.02, "type": "quantitative", "title": "Log2 fold", "scale": {"domain": [-2, 2], "nice": false, "zero": false}}, "y": {"datum": -4.68, "type": "quantitative", "title": "log10 p-value", "scale": {"domain": [-5, 0], "reverse": true, "nice": false, "zero": false}}, "text": {"value": "Fibrosis and Remodeling"}}},
  {"data": {"values": [{}]}, "mark": {"type": "text", "align": "left", "baseline": "middle", "dx": -39, "dy": 2, "fontSize": 20, "fontWeight": "bold", "color": "black"}, "encoding": {"x": {"datum": -2, "type": "quantitative", "title": "Log2 fold", "scale": {"domain": [-2, 2], "nice": false, "zero": false}}, "y": {"datum": -5, "type": "quantitative", "title": "log10 p-value", "scale": {"domain": [-5, 0], "reverse": true, "nice": false, "zero": false}}, "text": {"value": "g"}}}
 ]},
 {"width": 326, "height": 197, "layer": [
  {"data": {"values": [{}]}, "mark": {"type": "rule", "strokeDash": [4, 2], "strokeWidth": 1, "color": "#333"}, "encoding": {"y": {"datum": -1.3, "type": "quantitative", "title": "log10 p-value", "scale": {"domain": [-5, 0], "reverse": true, "nice": false, "zero": false}}}},
  {"data": {"values": [{}]}, "mark": {"type": "rule", "strokeDash": [2, 1.5], "strokeWidth": 1.5, "color": "black"}, "encoding": {"x": {"datum": 0, "type": "quantitative", "title": "Log2 fold", "scale": {"domain": [-2, 2], "nice": false, "zero": false}}}},
  {"data": {"name": "dh"}, "mark": {"type": "circle", "size": 24, "color": "black", "opacity": 1}, "encoding": {"x": {"field": "fold", "type": "quantitative", "title": "Log2 fold", "scale": {"domain": [-2, 2], "nice": false, "zero": false}}, "y": {"field": "logp", "type": "quantitative", "title": "log10 p-value", "scale": {"domain": [-5, 0], "reverse": true, "nice": false, "zero": false}}}},
  {"data": {"name": "dh"}, "transform": [{"filter": {"field": "gene", "oneOf": ["LTA4H", "PTGFR", "GSTP1", "IL1RI", "PTGIR", "FCER2", "CD79A", "TLR9", "CAMP"]}}], "mark": {"type": "text", "align": "left", "baseline": "middle", "dx": 6, "dy": 1, "fontSize": 10, "color": "black"}, "encoding": {"x": {"field": "fold", "type": "quantitative", "title": "Log2 fold", "scale": {"domain": [-2, 2], "nice": false, "zero": false}}, "y": {"field": "logp", "type": "quantitative", "title": "log10 p-value", "scale": {"domain": [-5, 0], "reverse": true, "nice": false, "zero": false}}, "text": {"field": "gene"}}},
  {"data": {"name": "dh"}, "transform": [{"filter": {"field": "gene", "oneOf": ["PTGIS"]}}], "mark": {"type": "text", "align": "right", "baseline": "middle", "dx": -7, "dy": 1, "fontSize": 10, "color": "black"}, "encoding": {"x": {"field": "fold", "type": "quantitative", "title": "Log2 fold", "scale": {"domain": [-2, 2], "nice": false, "zero": false}}, "y": {"field": "logp", "type": "quantitative", "title": "log10 p-value", "scale": {"domain": [-5, 0], "reverse": true, "nice": false, "zero": false}}, "text": {"field": "gene"}}},
  {"data": {"values": [{}]}, "mark": {"type": "rect", "fill": "white", "stroke": "black", "strokeWidth": 1.5}, "encoding": {"x": {"datum": 0.04, "type": "quantitative", "title": "Log2 fold", "scale": {"domain": [-2, 2], "nice": false, "zero": false}}, "x2": {"datum": 2.09}, "y": {"datum": -5.04, "type": "quantitative", "title": "log10 p-value", "scale": {"domain": [-5, 0], "reverse": true, "nice": false, "zero": false}}, "y2": {"datum": -4.41}}},
  {"data": {"values": [{}]}, "mark": {"type": "text", "align": "center", "baseline": "middle", "fontSize": 13.5, "color": "black"}, "encoding": {"x": {"datum": 1.065, "type": "quantitative", "title": "Log2 fold", "scale": {"domain": [-2, 2], "nice": false, "zero": false}}, "y": {"datum": -4.725, "type": "quantitative", "title": "log10 p-value", "scale": {"domain": [-5, 0], "reverse": true, "nice": false, "zero": false}}, "text": {"value": "Innante/Adaptive Immunity"}}},
  {"data": {"values": [{}]}, "mark": {"type": "text", "align": "left", "baseline": "middle", "dx": -39, "dy": 2, "fontSize": 20, "fontWeight": "bold", "color": "black"}, "encoding": {"x": {"datum": -2, "type": "quantitative", "title": "Log2 fold", "scale": {"domain": [-2, 2], "nice": false, "zero": false}}, "y": {"datum": -5, "type": "quantitative", "title": "log10 p-value", "scale": {"domain": [-5, 0], "reverse": true, "nice": false, "zero": false}}, "text": {"value": "h"}}}
 ]}
]
}
